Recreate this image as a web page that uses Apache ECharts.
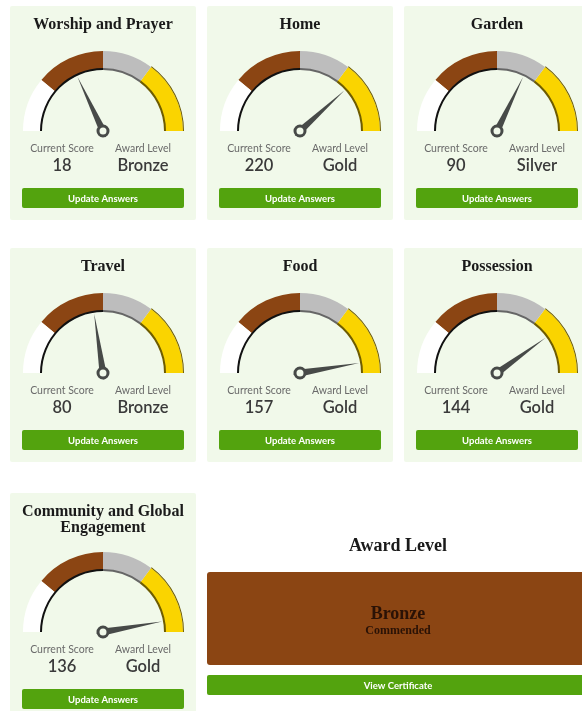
<!DOCTYPE html>
<html>
<head>
<meta charset="utf-8">
<script src="https://cdn.jsdelivr.net/npm/echarts@6/dist/echarts.min.js"></script>
<style>
  html, body { margin: 0; padding: 0; background: #fff; }
  #main { width: 582px; height: 711px; }
</style>
</head>
<body>
<div id="main"></div>
<script>
// data
const categories = ['Worship and Prayer', 'Home', 'Garden', 'Travel', 'Food', 'Possession', 'Community and Global\nEngagement'];
const scores = [18, 220, 90, 80, 157, 144, 136];
const levels = ['Bronze', 'Gold', 'Silver', 'Bronze', 'Gold', 'Gold', 'Gold'];
// needle position, percent of the arc
const needlePct = [36, 76.5, 64.3, 45.3, 94.7, 80, 94.4];
const overallLevel = 'Bronze';
const overallNote = 'Commended';

const colX = [10, 207, 404];
const rowTop = [6, 248, 493];
const cardW = 186;
const SERIF = '"Liberation Serif", serif';
const SANS = 'Lato, "Open Sans", sans-serif';
const GREEN = '#53a30e';

const chart = echarts.init(document.getElementById('main'));

function txt(x, y, text, size, opts) {
  opts = opts || {};
  return {
    type: 'text', z: 10, silent: true,
    style: {
      x: x, y: y, text: text,
      fill: opts.color || '#222',
      fontSize: size,
      fontFamily: opts.family || SANS,
      fontWeight: opts.weight || 'normal',
      lineHeight: opts.lineHeight || size,
      textAlign: 'center', textVerticalAlign: 'middle',
      align: 'center', verticalAlign: 'middle'
    }
  };
}

function button(x, y, w, h, label) {
  return [
    { type: 'rect', z: 5, silent: true, shape: { x: x, y: y, width: w, height: h, r: 2 }, style: { fill: GREEN } },
    txt(x + w / 2, y + h / 2 + 0.5, label, 9.5, { color: '#fff', weight: 'bold' })
  ];
}

const graphics = [];
const series = [];

categories.forEach(function (name, i) {
  const left = colX[i % 3];
  const top = rowTop[Math.floor(i / 3)];
  const lines = name.split('\n').length;
  const extra = (lines - 1) * 14;
  const cx = left + cardW / 2;
  const cy = top + 125 + extra;

  graphics.push({ type: 'rect', z: 0, silent: true,
    shape: { x: left, y: top, width: cardW, height: 214 + extra + (i === 6 ? 20 : 0), r: 2 },
    style: { fill: '#f1f9ea' } });
  graphics.push(txt(cx, top + 19 + (lines - 1) * 8, name, 16, { family: SERIF, weight: 'bold', color: '#1a1a1a', lineHeight: 16 }));
  graphics.push(txt(left + 52, cy + 18, 'Current Score', 10.5, { color: '#6a6a6a' }));
  graphics.push(txt(left + 133, cy + 18, 'Award Level', 10.5, { color: '#6a6a6a' }));
  graphics.push(txt(left + 52, cy + 35, String(scores[i]), 16.5, { color: '#3a3a3a', weight: 600 }));
  graphics.push(txt(left + 133, cy + 35, levels[i], 16.5, { color: '#3a3a3a', weight: 600 }));
  button(left + 12, cy + 57, cardW - 24, 20, 'Update Answers').forEach(function (g) { graphics.push(g); });

  const base = {
    type: 'gauge', center: [cx, cy], startAngle: 180, endAngle: 0,
    min: 0, max: 100, splitNumber: 1,
    splitLine: { show: false }, axisTick: { show: false }, axisLabel: { show: false },
    title: { show: false }, detail: { show: false }, animation: false
  };
  // coloured band
  series.push(Object.assign({}, base, {
    radius: 80, z: 2,
    axisLine: { lineStyle: { width: 18, color: [[0.22, '#ffffff'], [0.5, '#8b4513'], [0.705, '#bdbdbd'], [1, '#fad400']] } },
    pointer: { show: false }, anchor: { show: false },
    data: [{ value: 0 }]
  }));
  // outline along the gold band
  series.push(Object.assign({}, base, {
    radius: 81, z: 3,
    axisLine: { lineStyle: { width: 1, color: [[0.705, 'rgba(0,0,0,0)'], [1, '#6e5c00']] } },
    pointer: { show: false }, anchor: { show: false },
    data: [{ value: 0 }]
  }));
  // thin inner edge line + needle
  series.push(Object.assign({}, base, {
    radius: 63, z: 4,
    axisLine: { lineStyle: { width: 2, color: [[0.5, '#111111'], [0.705, '#666666'], [1, '#6e5c00']] } },
    pointer: { show: true, length: 60, width: 3.5, offsetCenter: [0, 0], itemStyle: { color: '#474a48' } },
    anchor: { show: true, showAbove: true, size: 10, itemStyle: { color: '#f1f9ea', borderColor: '#474a48', borderWidth: 3 } },
    data: [{ value: needlePct[i], name: name }]
  }));
});

// overall award panel
graphics.push(txt(398, 546, 'Award Level', 18, { family: SERIF, weight: 'bold', color: '#1a1a1a' }));
graphics.push({ type: 'rect', z: 1, silent: true, shape: { x: 207, y: 572, width: 382, height: 93, r: 3 }, style: { fill: '#8b4513' } });
graphics.push(txt(398, 614, overallLevel, 18, { family: SERIF, weight: 'bold', color: '#2a1206' }));
graphics.push(txt(398, 631, overallNote, 12, { family: SERIF, weight: 'bold', color: '#2a1206' }));
button(207, 675, 382, 20, 'View Certificate').forEach(function (g) { graphics.push(g); });

chart.setOption({
  backgroundColor: '#ffffff',
  graphic: { elements: graphics },
  series: series
});
</script>
</body>
</html>
